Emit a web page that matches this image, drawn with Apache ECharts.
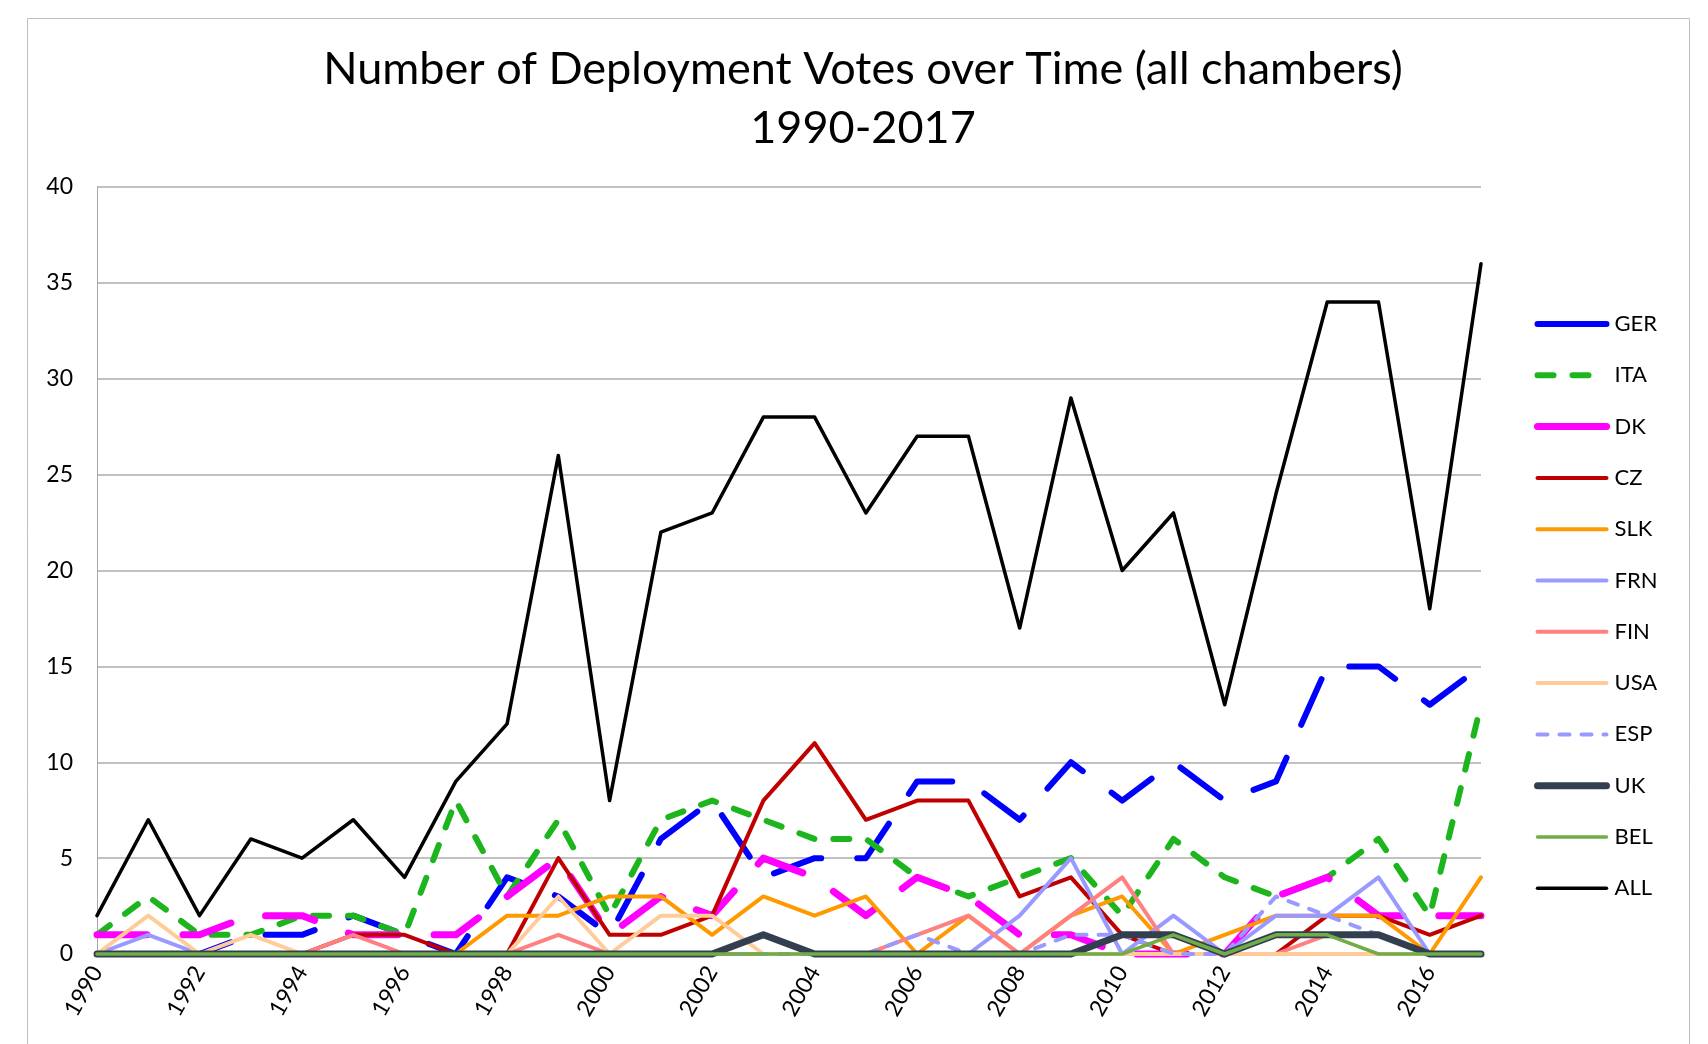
<!DOCTYPE html>
<html>
<head>
<meta charset="utf-8">
<script src="https://cdn.jsdelivr.net/npm/echarts@6/dist/echarts.min.js"></script>
<style>
html,body{margin:0;padding:0;background:#fff;}
#c{width:1708px;height:1044px;}
</style>
</head>
<body>
<div id="c"></div>
<script>
const years = ['1990','1991','1992','1993','1994','1995','1996','1997','1998','1999','2000','2001','2002','2003','2004','2005','2006','2007','2008','2009','2010','2011','2012','2013','2014','2015','2016','2017'];
const GER = [0,0,0,1,1,2,1,0,4,3,1,6,8,4,5,5,9,9,7,10,8,10,8,9,15,15,13,15];
const ITA = [1,3,1,1,2,2,1,8,3,7,2,7,8,7,6,6,4,3,4,5,2,6,4,3,4,6,2,13];
const DK  = [1,1,1,2,2,1,1,1,3,5,1,3,2,5,4,2,4,3,1,1,0,0,0,3,4,2,2,2];
const CZ  = [0,0,0,0,0,1,1,0,0,5,1,1,2,8,11,7,8,8,3,4,1,0,0,0,2,2,1,2];
const SLK = [0,0,0,0,0,0,0,0,2,2,3,3,1,3,2,3,0,2,0,2,3,0,1,2,2,2,0,4];
const FRN = [0,1,0,0,0,0,0,0,0,0,0,0,0,0,0,0,0,0,2,5,0,2,0,2,2,4,0,0];
const FIN = [0,0,0,0,0,1,0,0,0,1,0,0,0,0,0,0,1,2,0,2,4,0,0,0,1,1,0,0];
const USA = [0,2,0,1,0,0,0,0,0,3,0,2,2,0,0,0,0,0,0,0,0,0,0,0,0,0,0,0];
const ESP = [0,0,0,0,0,0,0,0,0,0,0,0,0,0,0,0,1,0,0,1,1,0,0,3,2,1,0,0];
const UK  = [0,0,0,0,0,0,0,0,0,0,0,0,0,1,0,0,0,0,0,0,1,1,0,1,1,1,0,0];
const BEL = [0,0,0,0,0,0,0,0,0,0,0,0,0,0,0,0,0,0,0,0,0,1,0,1,1,0,0,0];
const ALL = [2,7,2,6,5,7,4,9,12,26,8,22,23,28,28,23,27,27,17,29,20,23,13,24,34,34,18,36];
const yTicks = [0,5,10,15,20,25,30,35,40];

const FONT = 'Lato';
const legendItems = [];
function mk(name, data, color, width, dash, legendDash) {
  legendItems.push({
    name: name,
    itemStyle: {color: 'rgba(0,0,0,0)', opacity: 0, borderWidth: 0},
    lineStyle: {color: color, width: width, type: legendDash || 'solid', cap: 'round', opacity: 1}
  });
  return {
    name: name, type: 'line', data: data, symbol: 'none', clip: false,
    lineStyle: {color: color, width: width, type: dash || 'solid', cap: 'round', join: 'round'},
    itemStyle: {color: color},
    emphasis: {disabled: true},
    animation: false
  };
}
const series = [
  mk('GER', GER, '#0000FF', 6, [50, 36], 'solid'),
  mk('ITA', ITA, '#1DB51D', 6, [16, 19], [16, 19]),
  mk('DK', DK, '#FF00FF', 7, [50, 36], 'solid'),
  mk('CZ', CZ, '#C00000', 4),
  mk('SLK', SLK, '#FF9900', 4),
  mk('FRN', FRN, '#9999FF', 4),
  mk('FIN', FIN, '#FF8080', 4),
  mk('USA', USA, '#FFCC99', 4),
  mk('ESP', ESP, '#9999FF', 4, [10, 12], [10, 12]),
  mk('UK', UK, '#333F50', 7),
  mk('BEL', BEL, '#70AD47', 3.5),
  mk('ALL', ALL, '#000000', 3.5)
];

const chart = echarts.init(document.getElementById('c'), null, {renderer: 'canvas'});
chart.setOption({
  animation: false,
  backgroundColor: '#ffffff',
  textStyle: {fontFamily: FONT},
  title: {
    text: 'Number of Deployment Votes over Time (all chambers)\n1990-2017',
    left: 858, top: 35, textAlign: 'center',
    textStyle: {fontFamily: FONT, fontSize: 45, fontWeight: 'normal', color: '#000', lineHeight: 59}
  },
  graphic: [{
    type: 'rect', shape: {x: 27.5, y: 18.5, width: 1662, height: 1040},
    style: {fill: 'none', stroke: '#BFBFBF', lineWidth: 1}, z: -1, silent: true
  }],
  legend: {
    orient: 'vertical', left: 1529, top: 308,
    itemWidth: 69, itemHeight: 20, itemGap: 29.3,
    data: legendItems,
    itemStyle: {color: 'rgba(0,0,0,0)', opacity: 0, borderWidth: 0},
    textStyle: {fontFamily: FONT, fontSize: 22, color: '#000', lineHeight: 22, padding: [0,0,0,3]},
    selectedMode: false
  },
  grid: {left: 97, right: 227, top: 187, bottom: 90, containLabel: false},
  xAxis: {
    type: 'category', data: years, boundaryGap: false,
    axisLine: {show: true, lineStyle: {color: '#A6A6A6', width: 1}},
    axisTick: {show: false},
    axisLabel: {interval: 1, rotate: 60, margin: 14, fontFamily: FONT, fontSize: 23, color: '#000'},
    splitLine: {show: false}
  },
  yAxis: {
    type: 'value', min: yTicks[0], max: yTicks[yTicks.length-1], interval: 5,
    axisLine: {show: true, lineStyle: {color: '#A6A6A6', width: 1}},
    axisTick: {show: false},
    axisLabel: {margin: 24, fontFamily: FONT, fontSize: 23, color: '#000'},
    splitLine: {show: true, lineStyle: {color: '#ADADAD', width: 1.5}}
  },
  series: series
});
</script>
</body>
</html>
